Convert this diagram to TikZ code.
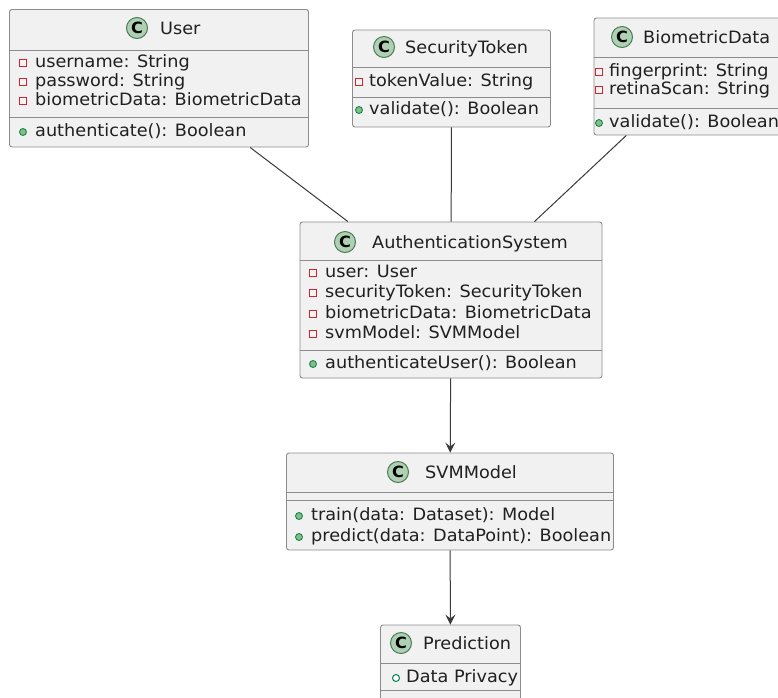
\documentclass[tikz,border=0pt]{standalone}
\usepackage{fontspec}
\setmainfont{DejaVu Sans}[FakeStretch=1.04]
\usetikzlibrary{arrows.meta}
\definecolor{boxfill}{HTML}{F1F1F1}
\definecolor{boxline}{HTML}{8C8C8C}
\definecolor{spotfill}{HTML}{ADD1B2}
\definecolor{spotline}{HTML}{4E7A56}
\definecolor{privred}{HTML}{C82930}
\definecolor{pubfill}{HTML}{84BE84}
\definecolor{publine}{HTML}{038048}
\definecolor{txtcol}{HTML}{202020}
\definecolor{conncol}{HTML}{3A3A3A}
% private field: square icon
\newcommand{\mpriv}[5]{\node[privicon] (#1i) at (#2,#4) {}; \node[member] (#1) at (#3,#4) {#5};}
% public method: filled circle icon
\newcommand{\mpubm}[5]{\node[pubmicon] (#1i) at (#2,#4) {}; \node[member] (#1) at (#3,#4) {#5};}
% public field: hollow circle icon
\newcommand{\mpubf}[5]{\node[pubficon] (#1i) at (#2,#4) {}; \node[member] (#1) at (#3,#4) {#5};}
\begin{document}
\fontsize{17}{20}\selectfont
\begin{tikzpicture}[x=1pt,y=-1pt,
  classbox/.style={draw=boxline, fill=boxfill, line width=0.9pt, rounded corners=2.5pt, inner sep=0pt},
  sep/.style={draw=boxline, line width=0.9pt},
  spot/.style={circle, draw=spotline, fill=spotfill, line width=1pt, minimum size=21pt, inner sep=0pt, text=black, font=\fontsize{15.5}{15.5}\selectfont\bfseries},
  title/.style={anchor=mid west, inner sep=0pt, text=txtcol, font=\fontsize{17}{20}\selectfont},
  member/.style={anchor=mid west, inner sep=0pt, text=txtcol, font=\fontsize{17}{20}\selectfont},
  privicon/.style={rectangle, draw=privred, fill=privred!6, line width=1pt, minimum width=7pt, minimum height=7pt, inner sep=0pt, outer sep=0pt},
  pubmicon/.style={circle, draw=publine, fill=pubfill, line width=0.8pt, minimum size=7pt, inner sep=0pt, outer sep=0pt},
  pubficon/.style={circle, draw=publine, fill=white, line width=1pt, minimum size=7pt, inner sep=0pt, outer sep=0pt},
  conn/.style={draw=conncol, line width=1pt},
  arr/.style={conn, -{Stealth[length=10pt,width=10pt,inset=4pt]}}
]
\fill[white] (0,0) rectangle (778,697);
\useasboundingbox (0,0) rectangle (778,697);

% boxes
\node[classbox, minimum width=299pt, minimum height=137.5pt] (user) at (159,78.25) {};
\node[classbox, minimum width=198pt, minimum height=97pt] (sec) at (451.5,78.5) {};
\node[classbox, minimum width=190pt, minimum height=117pt] (bio) at (689,76.5) {};
\node[classbox, minimum width=302pt, minimum height=156pt] (auth) at (451,300) {};
\node[classbox, minimum width=327pt, minimum height=97pt] (svm) at (450,501.5) {};
\node[classbox, minimum width=140pt, minimum height=80pt] (pred) at (450.5,665) {};

% separators
\draw[sep] (user.west |- 0,50) -- (user.east |- 0,50);
\draw[sep] (user.west |- 0,117) -- (user.east |- 0,117);
\draw[sep] (sec.west |- 0,67) -- (sec.east |- 0,67);
\draw[sep] (sec.west |- 0,97) -- (sec.east |- 0,97);
\draw[sep] (bio.west |- 0,57) -- (bio.east |- 0,57);
\draw[sep] (bio.west |- 0,108) -- (bio.east |- 0,108);
\draw[sep] (auth.west |- 0,260) -- (auth.east |- 0,260);
\draw[sep] (auth.west |- 0,350) -- (auth.east |- 0,350);
\draw[sep] (svm.west |- 0,492) -- (svm.east |- 0,492);
\draw[sep] (svm.west |- 0,500) -- (svm.east |- 0,500);
\draw[sep] (pred.west |- 0,663) -- (pred.east |- 0,663);
\draw[sep] (pred.west |- 0,690) -- (pred.east |- 0,690);

% titles
\node[spot] (userC) at (137,28) {C};
\node[title] (userT) at (160,30) {User};
\node[spot] (secC) at (384,47) {C};
\node[title] (secT) at (405,49) {SecurityToken};
\node[spot] (bioC) at (622,37) {C};
\node[title] (bioT) at (643,39) {BiometricData};
\node[spot] (authC) at (345,242) {C};
\node[title] (authT) at (372,244) {AuthenticationSystem};
\node[spot] (svmC) at (398,472) {C};
\node[title] (svmT) at (425,474) {SVMModel};
\node[spot] (predC) at (401,643) {C};
\node[title] (predT) at (423,645) {Prediction};

% members
\mpriv{ua}{23}{35}{63}{username: String}
\mpriv{ub}{23}{35}{82}{password: String}
\mpriv{uc}{23}{35}{101}{biometricData: BiometricData}
\mpubm{ud}{23}{35}{132}{authenticate(): Boolean}

\mpriv{sa}{359}{369}{82}{tokenValue: String}
\mpubm{sb}{359}{369}{110}{validate(): Boolean}

\mpriv{ba}{599}{609}{72}{fingerprint: String}
\mpriv{bb}{599}{609}{90}{retinaScan: String}
\mpubm{bc}{599}{609}{123}{validate(): Boolean}

\mpriv{aa}{313}{325}{273}{user: User}
\mpriv{ab}{313}{325}{293}{securityToken: SecurityToken}
\mpriv{ac}{313}{325}{314}{biometricData: BiometricData}
\mpriv{ad}{313}{325}{334}{svmModel: SVMModel}
\mpubm{ae}{313}{325}{364}{authenticateUser(): Boolean}

\mpubm{ma}{299}{311}{516}{train(data: Dataset): Model}
\mpubm{mb}{299}{311}{537}{predict(data: DataPoint): Boolean}

\mpubf{pa}{396}{406}{678}{Data Privacy}

% connectors
\draw[conn] (user) -- (auth);
\draw[conn] (sec) -- (auth);
\draw[conn] (bio) -- (auth);
\draw[arr] (auth) -- (svm);
\draw[arr] (svm) -- (pred);
\end{tikzpicture}
\end{document}
